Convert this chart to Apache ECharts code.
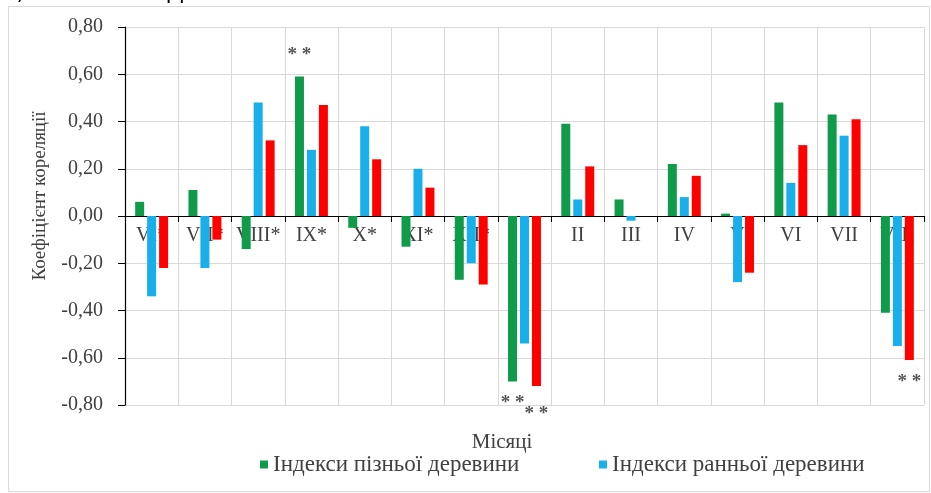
<!DOCTYPE html>
<html><head><meta charset="utf-8">
<script src="https://cdn.jsdelivr.net/npm/echarts@6/dist/echarts.min.js"></script>
<style>html,body{margin:0;padding:0;background:#fff}#c{width:931px;height:493px}</style>
</head><body><div id="c"></div>
<script>
const categories = ['VI*','VII*','VIII*','IX*','X*','XI*','XII*','I','II','III','IV','V','VI','VII','VIII'];
const lateWood  = [0.06, 0.11, -0.14, 0.59, -0.05, -0.13, -0.27, -0.70, 0.39, 0.07, 0.22, 0.01, 0.48, 0.43, -0.41];
const earlyWood = [-0.34, -0.22, 0.48, 0.28, 0.38, 0.20, -0.20, -0.54, 0.07, -0.02, 0.08, -0.28, 0.14, 0.34, -0.55];
const ringWood  = [-0.22, -0.10, 0.32, 0.47, 0.24, 0.12, -0.29, -0.72, 0.21, 0.00, 0.17, -0.24, 0.30, 0.41, -0.61];
const sigLate = [3, 7];
const sigRing = [7, 14];
const seriesNames = ['Індекси пізньої деревини', 'Індекси ранньої деревини', 'Індекси річної деревини'];
const yTicks = {min: -0.8, max: 0.8, interval: 0.2};

const serif = 'Liberation Serif';
function withStars(arr, sig, extra) {
  return arr.map((v, i) => sig.includes(i) ? {
    value: v,
    label: {show: true, position: v >= 0 ? 'top' : 'bottom', distance: 12 + ((extra && extra[i]) || 0),
            formatter: '* *', color: '#555555', fontSize: 19, fontWeight: 'bold', fontFamily: serif}
  } : v);
}
const chart = echarts.init(document.getElementById('c'), null, {renderer: 'canvas'});
chart.setOption({
  animation: false,
  backgroundColor: '#fff',
  textStyle: {fontFamily: serif},
  grid: {left: 125, right: 7, top: 27, bottom: 88, containLabel: false},
  xAxis: {
    type: 'category', data: categories,
    position: 'bottom', offset: -189,
    axisLine: {onZero: false, lineStyle: {color: '#000', width: 1.2}},
    axisTick: {show: true, length: 6, lineStyle: {color: '#000'}},
    axisLabel: {color: '#404040', fontFamily: serif, fontSize: 20, margin: 10, interval: 0},
    splitLine: {show: true, lineStyle: {color: '#d9d9d9'}}
  },
  yAxis: {
    type: 'value', min: yTicks.min, max: yTicks.max, interval: yTicks.interval,
    axisLine: {show: true, onZero: false, lineStyle: {color: '#000', width: 1.2}},
    axisTick: {show: true, length: 7, lineStyle: {color: '#000'}},
    axisLabel: {color: '#404040', fontFamily: serif, fontSize: 20, margin: 22,
                formatter: v => v.toFixed(2).replace('.', ',')},
    splitLine: {show: true, lineStyle: {color: '#d9d9d9'}}
  },
  legend: [
    {data: [seriesNames[0]], left: 255, top: 448, icon: 'rect', itemWidth: 8, itemHeight: 8, itemGap: 5,
     textStyle: {color: '#404040', fontFamily: serif, fontSize: 23}},
    {data: [seriesNames[1]], left: 594, top: 448, icon: 'rect', itemWidth: 8, itemHeight: 8, itemGap: 5,
     textStyle: {color: '#404040', fontFamily: serif, fontSize: 23}}
  ],
  graphic: [
    {type: 'rect', shape: {x: 8.5, y: 6.5, width: 921, height: 485}, style: {fill: 'none', stroke: '#d9d9d9', lineWidth: 1}, z: -10},
    {type: 'text', left: 2, top: -17, style: {text: 'Б) 1994 - 2008 рр.', fontSize: 21, fontFamily: 'DejaVu Sans', fill: '#000'}},
    {type: 'text', x: 502, y: 442, style: {text: 'Місяці', fontSize: 21, fontFamily: serif, fill: '#404040', align: 'center', verticalAlign: 'middle'}},
    {type: 'text', x: 40, y: 196, rotation: Math.PI / 2, style: {text: 'Коефіцієнт кореляції', fontSize: 19, fontFamily: serif, fill: '#404040', align: 'center', verticalAlign: 'middle'}}
  ],
  series: [
    {name: seriesNames[0], type: 'bar', data: withStars(lateWood, sigLate), barWidth: 9, barGap: '33%', itemStyle: {color: '#0F9B4A'}},
    {name: seriesNames[1], type: 'bar', data: earlyWood, barWidth: 9, barGap: '33%', itemStyle: {color: '#19AFEA'}},
    {name: seriesNames[2], type: 'bar', data: withStars(ringWood, sigRing, {7: 6}), barWidth: 9, barGap: '33%', itemStyle: {color: '#FF0000'}}
  ]
});
</script></body></html>
